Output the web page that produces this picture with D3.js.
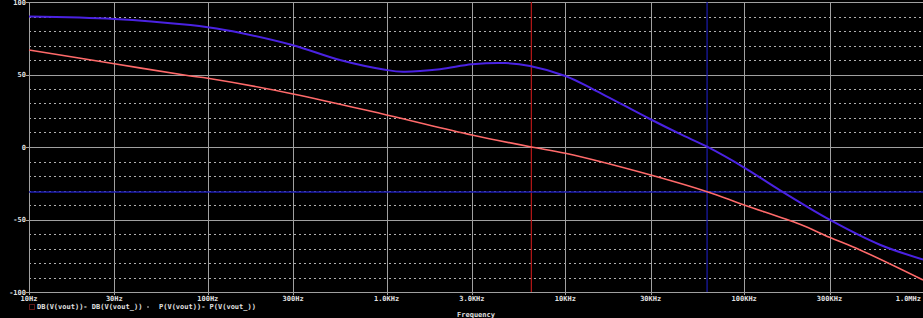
<!DOCTYPE html>
<html>
<head>
<meta charset="utf-8">
<script src="https://cdn.jsdelivr.net/npm/d3@7"></script>
<style>
  body { margin: 0; background: #000; }
  svg { display: block; }
  text { font-family: "DejaVu Sans Mono", monospace; font-size: 7px; font-weight: bold; fill: #e0e0e0; }
</style>
</head>
<body>
<div id="chart"></div>
<script>
// frequency ticks on the x axis
var xTicks = [10, 30, 100, 300, 1e3, 3e3, 1e4, 3e4, 1e5, 3e5, 1e6];
var xTickLabels = ["10Hz", "30Hz", "100Hz", "300Hz", "1.0KHz", "3.0KHz", "10KHz", "30KHz", "100KHz", "300KHz", "1.0MHz"];
var yTicks = [-100, -50, 0, 50, 100];

// blue trace
var blueFreq = [10, 30, 80, 100, 151, 300, 548, 1000, 1236, 1990, 3000, 4590, 6340, 10000, 14300, 29700, 43700, 62000, 101000, 158000, 302000, 574000, 1000000];
var blueVal  = [90.0, 88.3, 84.1, 82.6, 78.8, 70.2, 60.0, 53.1, 51.9, 53.6, 57.0, 57.9, 55.9, 49.0, 39.8, 19.3, 9.0, 0.2, -14.5, -29.7, -50.3, -67.4, -77.6];

// red trace
var redFreq = [10, 30, 80, 100, 300, 1000, 3000, 6450, 10000, 30000, 62000, 100000, 205000, 300000, 445000, 1000000];
var redVal  = [66.9, 57.4, 49.0, 47.4, 36.6, 22.1, 8.3, 0, -4.3, -19.3, -30.8, -40.0, -53.3, -62.3, -71.0, -91.7];

// cursors
var cursorFreqs = [6450, 62000];
var cursorLevels = [-31];

var legendItems = ["DB(V(vout))- DB(V(vout_))", "P(V(vout))- P(V(vout_))"];

var width = 923, height = 318;
var margin = {left: 29, top: 2, right: 0, bottom: 26};

var svg = d3.select("#chart").append("svg")
    .attr("width", width)
    .attr("height", height);

svg.append("rect").attr("width", width).attr("height", height).attr("fill", "#000");

var x = d3.scaleLog().domain([10, 1e6]).range([margin.left, width - margin.right]);
var y = d3.scaleLinear().domain([-100, 100]).range([height - margin.bottom, margin.top]);

// minor (dotted) horizontal grid
var minor = d3.range(-90, 100, 10).filter(function(d) { return d % 50 !== 0; });
svg.append("g").selectAll("line").data(minor).enter().append("line")
    .attr("x1", margin.left).attr("x2", width)
    .attr("y1", function(d) { return Math.round(y(d)) + 0.5; })
    .attr("y2", function(d) { return Math.round(y(d)) + 0.5; })
    .style("stroke", "#b0b0b0")
    .style("stroke-width", 1)
    .style("stroke-dasharray", "2,3");

// major horizontal grid
svg.append("g").selectAll("line").data(yTicks).enter().append("line")
    .attr("x1", margin.left - 3).attr("x2", width)
    .attr("y1", function(d) { return Math.round(y(d)) + 0.5; })
    .attr("y2", function(d) { return Math.round(y(d)) + 0.5; })
    .style("stroke", "#a0a0a0")
    .style("stroke-width", 1);

// vertical grid
svg.append("g").selectAll("line").data(xTicks).enter().append("line")
    .attr("x1", function(d) { return Math.round(x(d)) + 0.5; })
    .attr("x2", function(d) { return Math.round(x(d)) + 0.5; })
    .attr("y1", y(100)).attr("y2", y(-100) + 3)
    .style("stroke", "#a0a0a0")
    .style("stroke-width", 1);

// cursor lines
svg.append("line")
    .attr("x1", x(cursorFreqs[0])).attr("x2", x(cursorFreqs[0]))
    .attr("y1", y(100)).attr("y2", y(-100))
    .style("stroke", "#b81818").style("stroke-width", 1.2);
svg.append("line")
    .attr("x1", x(cursorFreqs[1])).attr("x2", x(cursorFreqs[1]))
    .attr("y1", y(100)).attr("y2", y(-100))
    .style("stroke", "#1c1cb0").style("stroke-width", 1.2);
svg.append("line")
    .attr("x1", margin.left).attr("x2", width)
    .attr("y1", y(cursorLevels[0])).attr("y2", y(cursorLevels[0]))
    .style("stroke", "#1c1cb0").style("stroke-width", 1.5);

// traces
var line = d3.line()
    .x(function(d) { return x(d[0]); })
    .y(function(d) { return y(d[1]); })
    .curve(d3.curveCatmullRom.alpha(0.5));

svg.append("path")
    .datum(d3.zip(redFreq, redVal))
    .attr("d", line)
    .attr("fill", "none")
    .style("stroke", "#ff6a6a")
    .style("stroke-width", 1.6);

svg.append("path")
    .datum(d3.zip(blueFreq, blueVal))
    .attr("d", line)
    .attr("fill", "none")
    .style("stroke", "#4a22e2")
    .style("stroke-width", 2);

// y labels
svg.append("g").selectAll("text").data(yTicks).enter().append("text")
    .attr("x", margin.left - 3)
    .attr("y", function(d) { return y(d) + 2.5; })
    .attr("text-anchor", "end")
    .text(function(d) { return d; });

// x labels
svg.append("g").selectAll("text").data(xTicks).enter().append("text")
    .attr("x", function(d, i) { return i === xTicks.length - 1 ? width - 2 : x(d); })
    .attr("y", 301)
    .attr("text-anchor", function(d, i) { return i === xTicks.length - 1 ? "end" : "middle"; })
    .text(function(d, i) { return xTickLabels[i]; });

// legend
svg.append("rect")
    .attr("x", 29.5).attr("y", 304.5).attr("width", 5).attr("height", 5)
    .attr("fill", "none")
    .style("stroke", "#c03030")
    .style("stroke-dasharray", "1,1");
svg.append("text").attr("x", 37).attr("y", 309).text(legendItems[0]);
svg.append("rect")
    .attr("x", 147).attr("y", 306).attr("width", 2).attr("height", 2)
    .attr("fill", "#606060");
svg.append("text").attr("x", 159).attr("y", 309).text(legendItems[1]);

svg.append("text")
    .attr("x", 476).attr("y", 317)
    .attr("text-anchor", "middle")
    .text("Frequency");
</script>
</body>
</html>
